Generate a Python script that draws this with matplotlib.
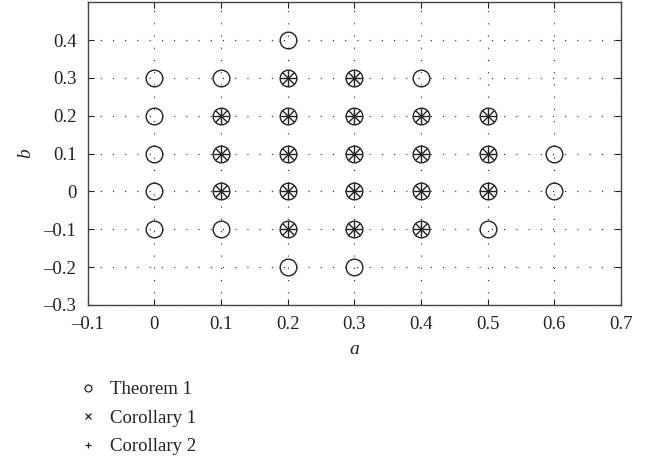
import matplotlib
matplotlib.use("Agg")
import matplotlib.pyplot as plt
from matplotlib.lines import Line2D

plt.rcParams['font.family'] = ['Liberation Serif', 'DejaVu Serif']

# Theorem 1 points (circles)
thm_a = [0, 0, 0, 0, 0,
         0.1, 0.1, 0.1, 0.1, 0.1,
         0.2, 0.2, 0.2, 0.2, 0.2, 0.2, 0.2,
         0.3, 0.3, 0.3, 0.3, 0.3, 0.3,
         0.4, 0.4, 0.4, 0.4, 0.4,
         0.5, 0.5, 0.5, 0.5,
         0.6, 0.6]
thm_b = [-0.1, 0, 0.1, 0.2, 0.3,
         -0.1, 0, 0.1, 0.2, 0.3,
         -0.2, -0.1, 0, 0.1, 0.2, 0.3, 0.4,
         -0.2, -0.1, 0, 0.1, 0.2, 0.3,
         -0.1, 0, 0.1, 0.2, 0.3,
         -0.1, 0, 0.1, 0.2,
         0, 0.1]

# Corollary 1 and 2 points (same set)
cor_a = [0.1, 0.1, 0.1,
         0.2, 0.2, 0.2, 0.2, 0.2,
         0.3, 0.3, 0.3, 0.3, 0.3,
         0.4, 0.4, 0.4, 0.4,
         0.5, 0.5, 0.5]
cor_b = [0, 0.1, 0.2,
         -0.1, 0, 0.1, 0.2, 0.3,
         -0.1, 0, 0.1, 0.2, 0.3,
         -0.1, 0, 0.1, 0.2,
         0, 0.1, 0.2]

xticks = [-0.1, 0, 0.1, 0.2, 0.3, 0.4, 0.5, 0.6, 0.7]
xlabels = ['\u20130.1', '0', '0.1', '0.2', '0.3', '0.4', '0.5', '0.6', '0.7']
yticks = [-0.3, -0.2, -0.1, 0, 0.1, 0.2, 0.3, 0.4]
ylabels = ['\u20130.3', '\u20130.2', '\u20130.1', '0', '0.1', '0.2', '0.3', '0.4']

col = '#222222'
fig = plt.figure(figsize=(6.53, 4.62), dpi=100)
ax = fig.add_axes([0.134, 0.340, 0.817, 0.655])

ax.plot(thm_a, thm_b, 'o', ms=12, mfc='none', mec=col, mew=1.0)
ax.plot(cor_a, cor_b, 'x', ms=8.3, mec=col, mew=1.0)
ax.plot(cor_a, cor_b, '+', ms=12, mec=col, mew=1.0)

ax.set_xlim(-0.1, 0.7)
ax.set_ylim(-0.3, 0.5)
ax.set_xticks(xticks)
ax.set_xticklabels(xlabels)
ax.set_yticks(yticks)
ax.set_yticklabels(ylabels)
ax.tick_params(direction='in', top=True, right=True, length=4, width=0.8,
               labelsize=13.5, colors=col, labelcolor=col)
ax.tick_params(axis='x', pad=8)
ax.tick_params(axis='y', pad=8)
for s in ax.spines.values():
    s.set_color('#444444')
    s.set_linewidth(1.0)
ax.grid(True, color=col, linestyle=(0, (1, 10)), linewidth=0.8)
ax.set_xlabel('a', fontstyle='italic', fontsize=14, color=col, labelpad=6)
ax.set_ylabel('b', fontstyle='italic', fontsize=14, color=col, labelpad=7)

handles = [
    Line2D([], [], ls='none', marker='o', ms=5, mfc='none', mec=col, mew=0.9),
    Line2D([], [], ls='none', marker='x', ms=4, mec=col, mew=0.9),
    Line2D([], [], ls='none', marker='+', ms=5, mec=col, mew=0.9),
]
fig.legend(handles, ['Theorem 1', 'Corollary 1', 'Corollary 2'],
           loc='upper left', bbox_to_anchor=(0.109, 0.195), frameon=False,
           fontsize=13.5, handlelength=0.8, handletextpad=0.75,
           labelspacing=0.6, borderpad=0, labelcolor=col)

fig.savefig('out.png', dpi=100)
